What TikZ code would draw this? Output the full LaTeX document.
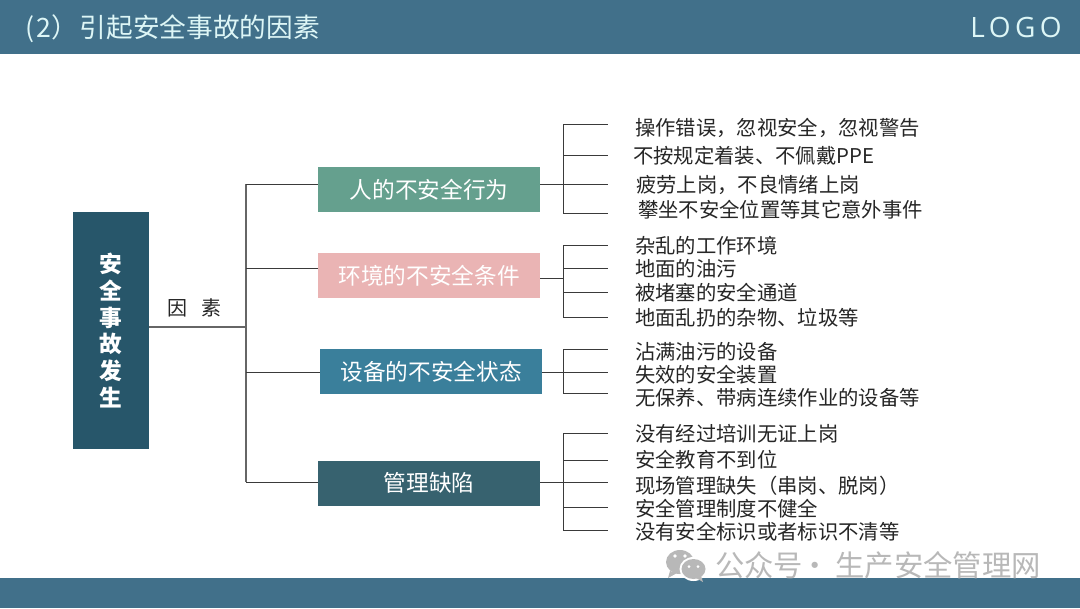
\documentclass[tikz,border=0pt]{standalone}
\usepackage{fontspec}
\setmainfont{Noto Sans CJK SC}
\newfontfamily\logofont[LetterSpace=16]{Open Sans}
\definecolor{bandc}{HTML}{41708A}
\definecolor{titlec}{HTML}{DDF6F6}
\definecolor{rootc}{HTML}{27566A}
\definecolor{greenc}{HTML}{65A08E}
\definecolor{pinkc}{HTML}{EAB4B4}
\definecolor{bluec}{HTML}{3A7F9B}
\definecolor{darkc}{HTML}{37626F}
\definecolor{inkc}{HTML}{262626}
\definecolor{linec}{HTML}{3A3A3A}
\definecolor{trunkc}{HTML}{666666}
\definecolor{markc}{HTML}{B8B8B8}
\tikzset{
  x=0.75pt,y=-0.75pt,
  band/.style={fill=bandc,draw=none},
  catbox/.style={draw=none,minimum width=166.5pt,minimum height=33.75pt,inner sep=0pt,text=white,font=\fontsize{17}{20}\selectfont},
  leaf/.style={anchor=west,inner sep=0pt,text height=13pt,text depth=2pt,text=inkc,font=\fontsize{15.25}{18}\selectfont},
  conn/.style={draw=linec,line width=0.75pt},
  trunk/.style={draw=trunkc,line width=0.9pt},
}
\begin{document}
\begin{tikzpicture}
\useasboundingbox (0,0) rectangle (1080,608);
\fill[white] (0,0) rectangle (1080,608);
\fill[band] (0,0) rectangle (1080,54);
\fill[band] (0,578) rectangle (1080,608);
\node[anchor=west,inner sep=0pt,text=titlec,font=\fontsize{20}{24}\selectfont] (title) at (25,28.5) {(\hspace{1.5pt}2）\hspace{1.5pt}引起安全事故的因素};
\node[anchor=east,inner sep=0pt,text=titlec,font=\logofont\fontsize{21}{24}\selectfont] (logo) at (1062,27) {LOGO};

% root
\node[fill=rootc,minimum width=57pt,minimum height=177.75pt,inner sep=0pt,align=center,text=white,font=\fontsize{17}{20.1}\selectfont\bfseries] (root) at (111,330.5) {安\\全\\事\\故\\发\\生};
\node[inner sep=0pt,text=inkc,font=\fontsize{15}{18}\selectfont] (yinsu) at (194.5,308) {因\hspace{0.72em}素};

% category boxes
\node[catbox,fill=greenc] (ca) at (429,189.5) {人的不安全行为};
\node[catbox,fill=pinkc]  (cb) at (429,275.5) {环境的不安全条件};
\node[catbox,fill=bluec]  (cc) at (431,371.5) {设备的不安全状态};
\node[catbox,fill=darkc]  (cd) at (429,483) {管理缺陷};

% trunk
\coordinate (t0) at (246,327);
\coordinate (ta) at (246,184);
\coordinate (tb) at (246,268);
\coordinate (tc) at (246,372);
\coordinate (td) at (246,482);
\draw[trunk] (root.east |- t0) -- (t0);
\draw[trunk] (ta) -- (td);
\draw[conn] (ta) -- (ca.west |- ta);
\draw[conn] (tb) -- (cb.west |- tb);
\draw[conn] (tc) -- (cc.west |- tc);
\draw[conn] (td) -- (cd.west |- td);

% leaf texts
\node[leaf] (a1) at (635,128) {操作错误，忽视安全，忽视警告};
\node[leaf] (a2) at (633,156) {不按规定着装、不佩戴PPE};
\node[leaf] (a3) at (636,185) {疲劳上岗，不良情绪上岗};
\node[leaf] (a4) at (638,210) {攀坐不安全位置等其它意外事件};
\node[leaf] (b1) at (635,246) {杂乱的工作环境};
\node[leaf] (b2) at (635,269) {地面的油污};
\node[leaf] (b3) at (635,293) {被堵塞的安全通道};
\node[leaf] (b4) at (635,318) {地面乱扔的杂物、垃圾等};
\node[leaf] (c1) at (635,352) {沾满油污的设备};
\node[leaf] (c2) at (635,375) {失效的安全装置};
\node[leaf] (c3) at (635,398) {无保养、带病连续作业的设备等};
\node[leaf] (d1) at (635,434) {没有经过培训无证上岗};
\node[leaf] (d2) at (635,460) {安全教育不到位};
\node[leaf] (d3) at (635,486) {现场管理缺失（串岗、脱岗）};
\node[leaf] (d4) at (635,509) {安全管理制度不健全};
\node[leaf] (d5) at (635,532) {没有安全标识或者标识不清等};

% brackets
\foreach \n/\y in {a1/124,a2/155,a3/184,a4/213,b1/245,b2/268,b3/292,b4/317,c1/349,c2/372,c3/393,d1/433,d2/460,d3/482,d4/507,d5/530}{
  \coordinate (s\n) at (563,\y);
  \coordinate (e\n) at (608,\y);
  \draw[conn] (s\n) -- (e\n);
}
\draw[conn] (sa1) -- (sa4);
\draw[conn] (sb1) -- (sb4);
\draw[conn] (sc1) -- (sc3);
\draw[conn] (sd1) -- (sd5);
\draw[conn] (ca.east |- sa3) -- (sa3);
\coordinate (jb) at (563,278);
\draw[conn] (cb.east |- jb) -- (jb);
\draw[conn] (cc.east |- sc2) -- (sc2);
\coordinate (jd) at (563,482);
\draw[conn] (cd.east |- jd) -- (jd);

% watermark
\fill[markc] (680,562) ellipse (14 and 12);
\fill[markc] (670,571) -- (668,578) -- (677,573) -- cycle;
\fill[white] (693.5,569) ellipse (14 and 12);
\fill[markc] (693.5,569) ellipse (12 and 10);
\fill[markc] (701,576) -- (703,582) -- (696,578) -- cycle;
\fill[white] (675,556) circle (1.8) (685,556) circle (1.8) (689,566.5) circle (1.5) (698,566.5) circle (1.5);
\node[anchor=west,inner sep=0pt,text=markc,font=\fontsize{22}{26}\selectfont] (mark) at (715,565) {公众号\hspace{-0.1em}·\hspace{0.2em}生产安全管理网};
\end{tikzpicture}
\end{document}
